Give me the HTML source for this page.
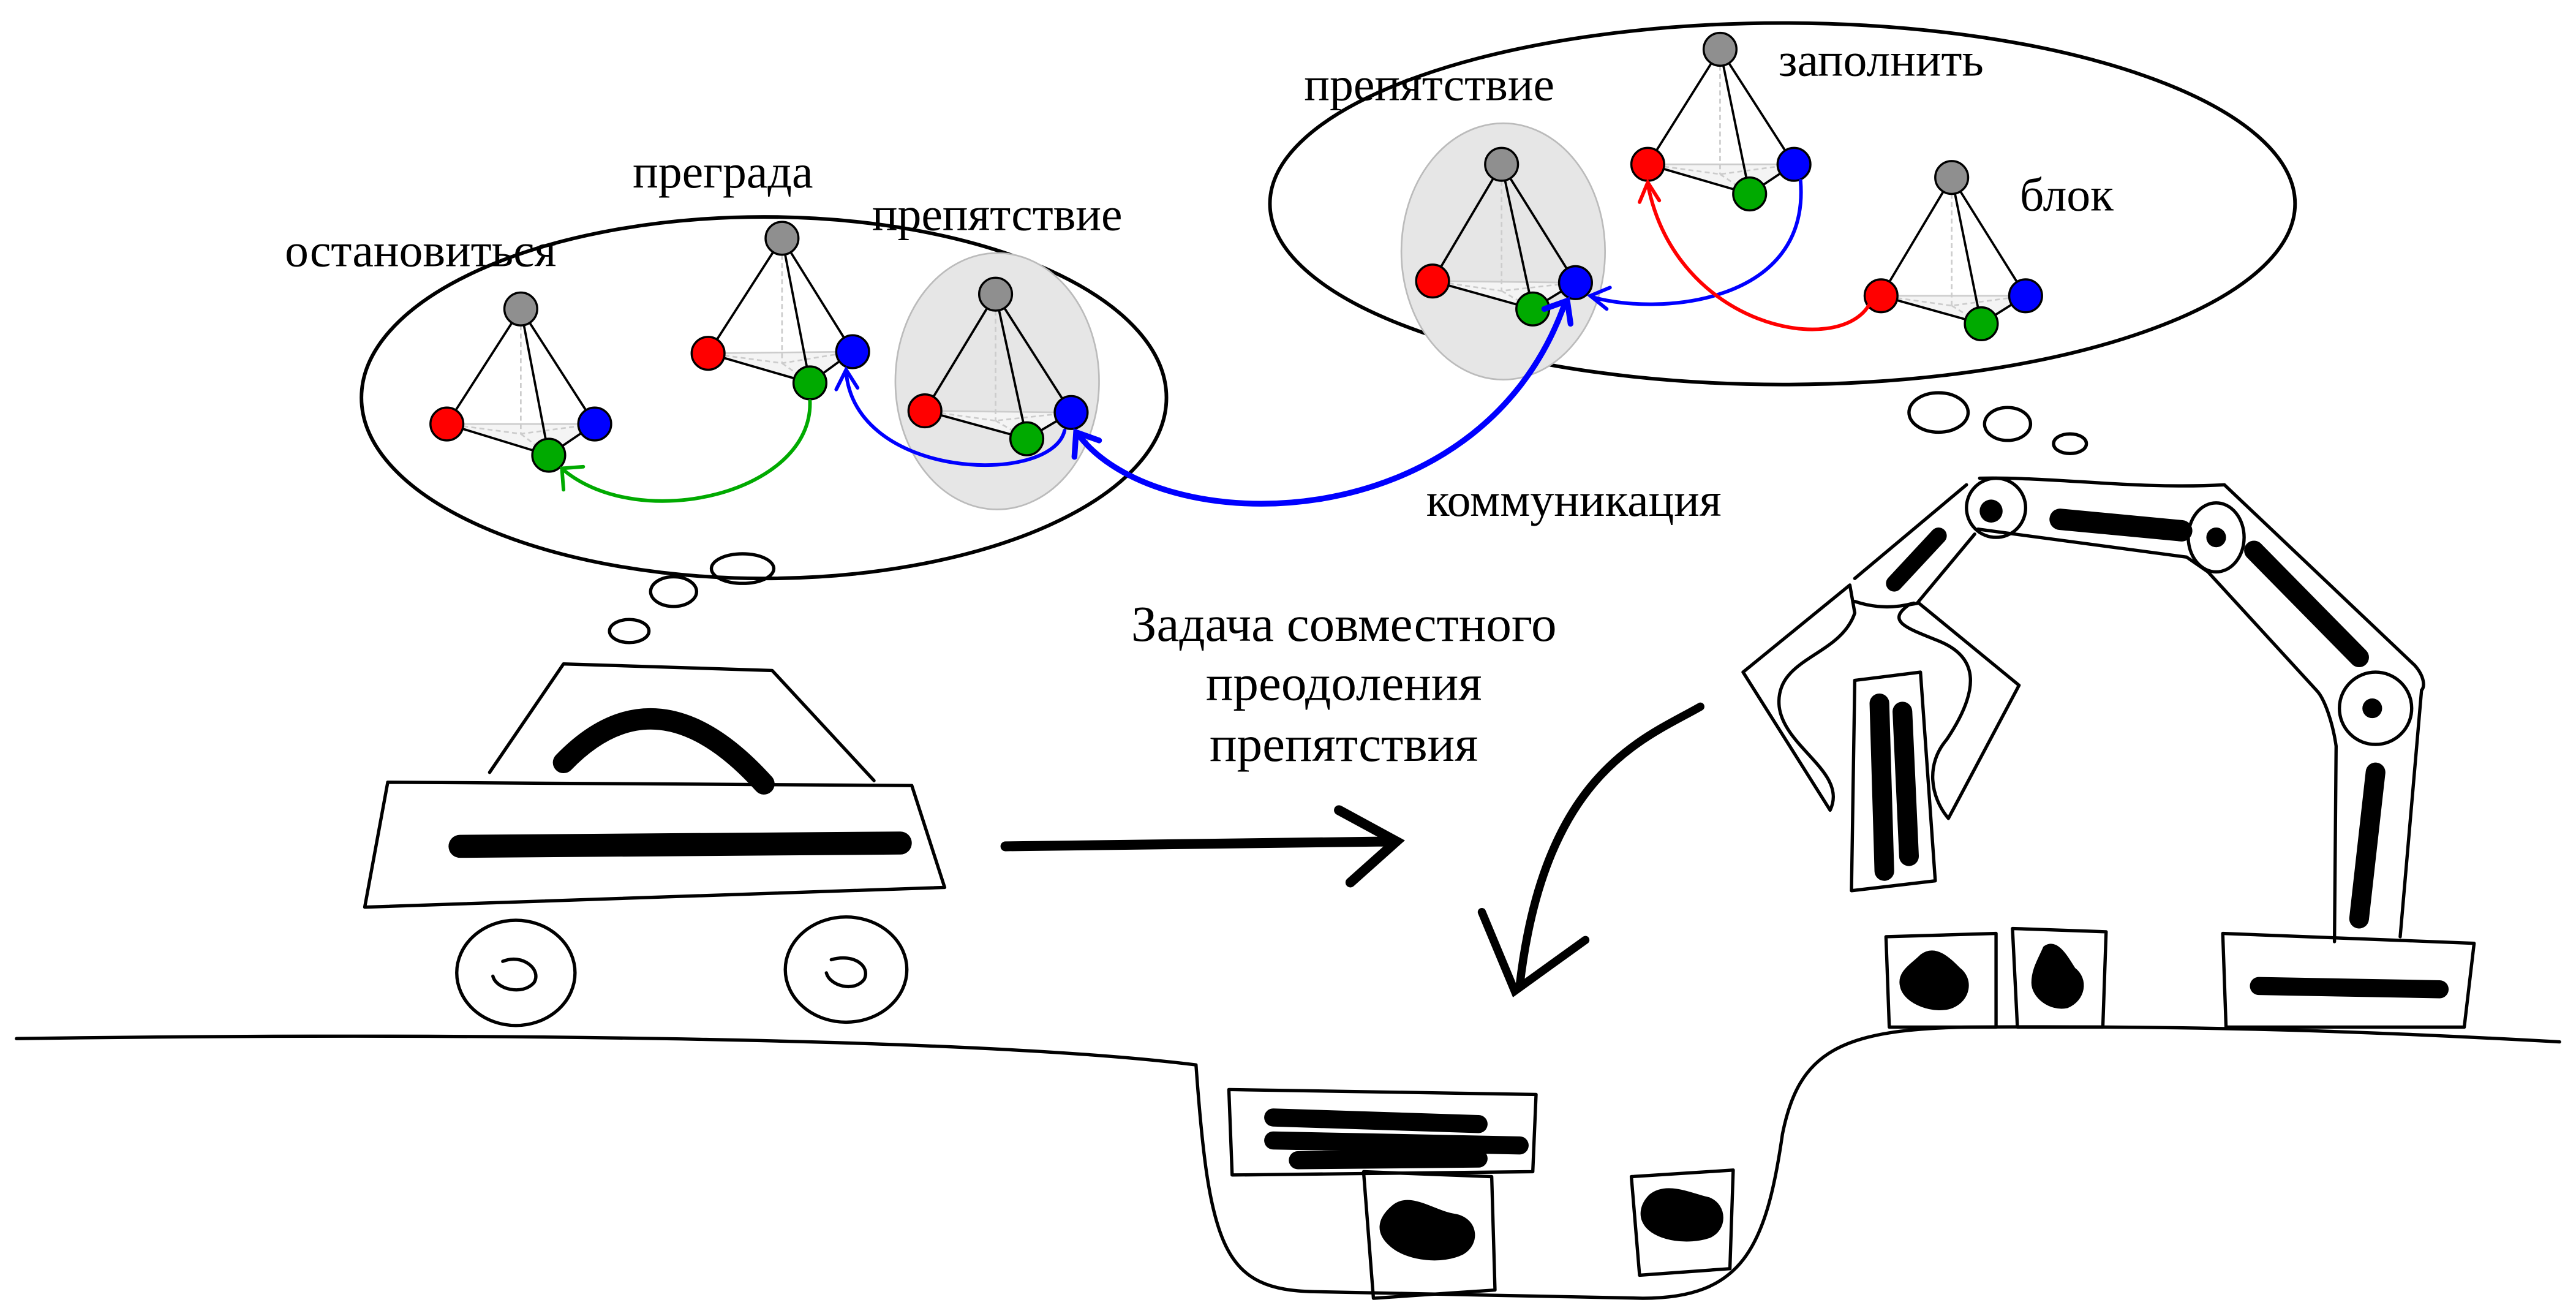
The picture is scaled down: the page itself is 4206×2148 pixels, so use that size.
<!DOCTYPE html>
<html><head><meta charset="utf-8"><style>
html,body{margin:0;padding:0;background:#fff;}
svg{display:block;}
text{font-family:"Liberation Serif",serif;font-size:29px;fill:#000;}
.big{font-size:31px;}
.t{stroke:#000;stroke-width:1.4;fill:none;}
.b{stroke:#ccc;stroke-width:1;fill:#f4f4f4;}
.d{stroke:#ccc;stroke-width:1;stroke-dasharray:3 2;fill:none;}
.n{stroke:#000;stroke-width:1.3;}
.s{stroke:#000;stroke-width:2;fill:none;stroke-linecap:round;stroke-linejoin:round;}
.k{stroke:#000;fill:none;stroke-linecap:round;}
</style></head><body>
<svg width="4206" height="2148" viewBox="0 0 1568 800.8" xmlns="http://www.w3.org/2000/svg">
<ellipse cx="465" cy="242" rx="245" ry="110" fill="none" stroke="#000" stroke-width="2.2"/>
<ellipse cx="1085" cy="124" rx="312" ry="110" fill="none" stroke="#000" stroke-width="2.2"/>
<ellipse cx="607" cy="232" rx="62" ry="78" fill="#e6e6e6" stroke="#bbb" stroke-width="1"/>
<ellipse cx="915" cy="153" rx="62" ry="78" fill="#e6e6e6" stroke="#bbb" stroke-width="1"/>
<g fill="none" stroke="#000" stroke-width="2">
<ellipse cx="383" cy="384" rx="12" ry="7"/><ellipse cx="410" cy="360" rx="14" ry="9"/><ellipse cx="452" cy="346" rx="19" ry="9"/>
<ellipse cx="1180" cy="251" rx="18" ry="12"/><ellipse cx="1222" cy="258" rx="14" ry="10"/><ellipse cx="1260" cy="270" rx="10" ry="6"/>
</g>
<text x="256" y="162" text-anchor="middle">остановиться</text>
<text x="440" y="114" text-anchor="middle">преграда</text>
<text x="607" y="140" text-anchor="middle">препятствие</text>
<text x="870" y="61" text-anchor="middle">препятствие</text>
<text x="1145" y="46" text-anchor="middle">заполнить</text>
<text x="1258" y="128" text-anchor="middle">блок</text>
<text x="958" y="314" text-anchor="middle">коммуникация</text>
<text class="big" x="818" y="390" text-anchor="middle">Задача совместного</text>
<text class="big" x="818" y="426" text-anchor="middle">преодоления</text>
<text class="big" x="818" y="463" text-anchor="middle">препятствия</text>

<g>
<polygon class="b" points="272,258 362,258 334,277"/><path class="d" d="M317,188V264M272,258L317,264L362,258M317,264L334,277"/>
<path class="t" d="M317,188L272,258M317,188L334,277M317,188L362,258M272,258L334,277L362,258"/>
<circle class="n" cx="317" cy="188" r="10" fill="#8f8f8f"/><circle class="n" cx="272" cy="258" r="10" fill="#f00"/><circle class="n" cx="362" cy="258" r="10" fill="#00f"/><circle class="n" cx="334" cy="277" r="10" fill="#0a0"/>
</g>
<g>
<polygon class="b" points="431,215 519,214 493,233"/><path class="d" d="M476,145V221M431,215L476,221L519,214M476,221L493,233"/>
<path class="t" d="M476,145L431,215M476,145L493,233M476,145L519,214M431,215L493,233L519,214"/>
<circle class="n" cx="476" cy="145" r="10" fill="#8f8f8f"/><circle class="n" cx="431" cy="215" r="10" fill="#f00"/><circle class="n" cx="519" cy="214" r="10" fill="#00f"/><circle class="n" cx="493" cy="233" r="10" fill="#0a0"/>
</g>
<g>
<polygon class="b" points="563,250 652,251 625,267"/><path class="d" d="M606,179V256M563,250L606,256L652,251M606,256L625,267"/>
<path class="t" d="M606,179L563,250M606,179L625,267M606,179L652,251M563,250L625,267L652,251"/>
<circle class="n" cx="606" cy="179" r="10" fill="#8f8f8f"/><circle class="n" cx="563" cy="250" r="10" fill="#f00"/><circle class="n" cx="652" cy="251" r="10" fill="#00f"/><circle class="n" cx="625" cy="267" r="10" fill="#0a0"/>
</g>
<g>
<polygon class="b" points="872,171 959,172 933,188"/><path class="d" d="M914,100V177M872,171L914,177L959,172M914,177L933,188"/>
<path class="t" d="M914,100L872,171M914,100L933,188M914,100L959,172M872,171L933,188L959,172"/>
<circle class="n" cx="914" cy="100" r="10" fill="#8f8f8f"/><circle class="n" cx="872" cy="171" r="10" fill="#f00"/><circle class="n" cx="959" cy="172" r="10" fill="#00f"/><circle class="n" cx="933" cy="188" r="10" fill="#0a0"/>
</g>
<g>
<polygon class="b" points="1003,100 1092,100 1065,118"/><path class="d" d="M1047,30V106M1003,100L1047,106L1092,100M1047,106L1065,118"/>
<path class="t" d="M1047,30L1003,100M1047,30L1065,118M1047,30L1092,100M1003,100L1065,118L1092,100"/>
<circle class="n" cx="1047" cy="30" r="10" fill="#8f8f8f"/><circle class="n" cx="1003" cy="100" r="10" fill="#f00"/><circle class="n" cx="1092" cy="100" r="10" fill="#00f"/><circle class="n" cx="1065" cy="118" r="10" fill="#0a0"/>
</g>
<g>
<polygon class="b" points="1145,180 1233,180 1206,197"/><path class="d" d="M1188,108V186M1145,180L1188,186L1233,180M1188,186L1206,197"/>
<path class="t" d="M1188,108L1145,180M1188,108L1206,197M1188,108L1233,180M1145,180L1206,197L1233,180"/>
<circle class="n" cx="1188" cy="108" r="10" fill="#8f8f8f"/><circle class="n" cx="1145" cy="180" r="10" fill="#f00"/><circle class="n" cx="1233" cy="180" r="10" fill="#00f"/><circle class="n" cx="1206" cy="197" r="10" fill="#0a0"/>
</g>

<g fill="none" stroke-width="2.2" stroke-linecap="round">
<path stroke="#0a0" d="M493,244C495,300 390,325 343,286M343,298L342,285L355,284"/>
<path stroke="#00f" d="M648,262C640,296 520,292 515,226M509,237L515,225L522,236"/>
<path stroke="#00f" stroke-width="3.5" d="M952,186C900,330 705,330 656,264M654,278L655,263L669,268M940,188L954,183L956,197"/>
<path stroke="#00f" d="M1096,110C1102,185 1010,192 970,181M980,175L968,180L978,188"/>
<path stroke="#f00" d="M1138,185C1120,218 1020,200 1003,112M998,123L1003,111L1010,122"/>
</g>

<path class="s" d="M10,632C300,628 600,632 728,648C736,760 745,785 800,786L1000,790C1060,790 1075,760 1085,690C1095,640 1120,626 1200,625C1350,624 1450,628 1558,634"/>

<path class="s" d="M298,470L343,404L470,408L532,475"/>
<path class="s" fill="#fff" d="M236,476L555,478L575,540L222,552Z"/>
<path class="k" stroke-width="14" d="M280,515L548,513"/>
<path class="k" stroke-width="13" d="M343,464Q400,405 465,477"/>
<ellipse cx="314" cy="592" rx="36" ry="32" fill="none" stroke="#000" stroke-width="2"/>
<ellipse cx="515" cy="590" rx="37" ry="32" fill="none" stroke="#000" stroke-width="2"/>
<path class="s" d="M306,585C318,580 330,590 325,598C318,606 302,602 300,594"/>
<path class="s" d="M506,584C520,580 530,588 526,596C520,604 505,600 503,592"/>

<path class="k" stroke-width="6" d="M612,515L850,512M815,493L850,512L822,537"/>
<path class="k" stroke-width="5" d="M1035,430C1000,450 940,470 925,600M902,555L922,603L965,572"/>

<g class="s" fill="#fff">
<path d="M1205,291C1250,290 1300,298 1354,295L1470,405C1476,412 1476,418 1474,420L1461,570M1421,573L1422,454C1420,440 1415,425 1410,420L1344,348L1331,339L1204,322"/>
<path d="M1197,295L1129,352M1202,325L1167,367"/>
<path d="M1129,366Q1147,372 1165,367"/>
<path d="M1126,356L1129,373C1120,400 1080,400 1083,430C1086,455 1125,470 1114,493L1061,409Z"/>
<path d="M1168,367L1229,417L1186,498C1175,485 1172,465 1185,450C1205,420 1205,400 1180,390C1160,382 1148,378 1162,368Z"/>
<path d="M1129,414L1169,409L1178,536L1127,542Z"/>
<ellipse cx="1215" cy="309" rx="18" ry="18"/>
<ellipse cx="1349" cy="327" rx="17" ry="21"/>
<ellipse cx="1446" cy="431" rx="22" ry="22"/>
</g>
<g fill="#000">
<circle cx="1212" cy="311" r="7"/><circle cx="1349" cy="327" r="6"/><circle cx="1444" cy="431" r="6"/>
</g>
<g class="k">
<path stroke-width="13" d="M1254,316L1328,323"/>
<path stroke-width="12" d="M1372,335L1436,400"/>
<path stroke-width="12" d="M1446,470L1436,559"/>
<path stroke-width="10" d="M1153,355L1180,326"/>
<path stroke-width="12" d="M1144,428L1147,530M1158,433L1162,521"/>
</g>

<g class="s" fill="#fff">
<path d="M1148,570L1215,568L1215,625L1150,625Z"/>
<path d="M1225,565L1282,567L1280,625L1228,625Z"/>
<path d="M1353,568L1506,574L1500,625L1355,625Z"/>
<path d="M748,663L935,666L933,713L750,715Z"/>
<path d="M830,713L908,716L910,785L836,790Z"/>
<path d="M993,716L1055,712L1053,772L998,776Z"/>
</g>
<g fill="#000" stroke="#000" stroke-width="3" stroke-linejoin="round">
<path d="M1170,582C1178,576 1186,584 1192,590C1200,596 1198,608 1188,612C1178,616 1160,610 1158,600C1156,592 1164,588 1170,582Z"/>
<path d="M1245,577C1252,572 1258,584 1262,590C1270,596 1268,608 1258,612C1248,614 1238,606 1238,598C1238,590 1242,584 1245,577Z"/>
<path d="M848,735C858,726 872,738 885,740C898,742 900,756 890,762C878,768 858,766 848,758C838,750 840,742 848,735Z"/>
<path d="M1005,728C1015,720 1030,728 1040,730C1050,734 1050,748 1040,752C1028,756 1010,754 1003,746C998,740 1000,733 1005,728Z"/>
</g>
<g class="k" stroke-width="11">
<path d="M1375,600L1485,602"/>
<path d="M775,680L900,684M775,694L925,697M790,706L900,705"/>
</g>
</svg>
</body></html>
